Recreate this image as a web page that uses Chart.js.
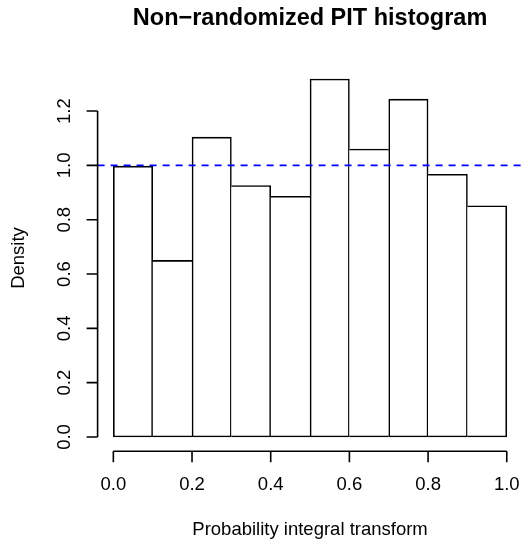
<!DOCTYPE html>
<html>
<head>
<meta charset="utf-8">
<script src="https://cdn.jsdelivr.net/npm/chart.js@4"></script>
<style>
  html, body { margin: 0; padding: 0; background: #fff; }
  canvas { display: block; }
</style>
</head>
<body>
<canvas id="pitChart" width="525" height="544"></canvas>
<script>
// PIT histogram, drawn R-style
const breaks = [0, 0.1, 0.2, 0.3, 0.4, 0.5, 0.6, 0.7, 0.8, 0.9, 1.0];
const density = [0.997, 0.650, 1.104, 0.926, 0.886, 1.318, 1.060, 1.244, 0.967, 0.851];
const xTicks = [0, 0.2, 0.4, 0.6, 0.8, 1.0];
const yTicks = [0, 0.2, 0.4, 0.6, 0.8, 1.0, 1.2];
const refLevel = 1.0;

const titleText = 'Non\u2212randomized PIT histogram';
const xLabel = 'Probability integral transform';
const yLabel = 'Density';

const FONT = '"Liberation Sans", Arial, Helvetica, sans-serif';
const LW = 1.6;
const yMax = Math.max(...density);

const bars = density.map((d, i) => ({ x: (breaks[i] + breaks[i + 1]) / 2, y: d }));

// shared edge between two bars is drawn once, by the taller one
function edgeWidths(i) {
  const last = density.length - 1;
  return {
    top: LW,
    bottom: LW,
    left: (i === 0 || density[i - 1] < density[i]) ? LW : 0,
    right: (i === last || density[i + 1] <= density[i]) ? LW : 0
  };
}

// axes, labels and reference line like base R graphics
const rStyle = {
  id: 'rStyle',
  afterDatasetsDraw(chart) {
    const { ctx, chartArea, scales: { y } } = chart;
    const py = y.getPixelForValue(refLevel);
    ctx.save();
    ctx.strokeStyle = '#0000ff';
    ctx.lineWidth = LW;
    ctx.setLineDash([7, 6]);
    ctx.beginPath();
    ctx.moveTo(chartArea.left, py);
    ctx.lineTo(chartArea.right, py);
    ctx.stroke();
    ctx.restore();
  },
  afterDraw(chart) {
    const { ctx, chartArea, scales: { x, y } } = chart;
    const tick = 11;
    ctx.save();
    ctx.strokeStyle = '#000';
    ctx.fillStyle = '#000';
    ctx.lineWidth = LW;

    // x axis
    const ax = chartArea.bottom;
    ctx.beginPath();
    ctx.moveTo(x.getPixelForValue(xTicks[0]), ax);
    ctx.lineTo(x.getPixelForValue(xTicks[xTicks.length - 1]), ax);
    xTicks.forEach(v => {
      const px = x.getPixelForValue(v);
      ctx.moveTo(px, ax);
      ctx.lineTo(px, ax + tick);
    });
    ctx.stroke();
    ctx.font = '18.5px ' + FONT;
    ctx.textAlign = 'center';
    ctx.textBaseline = 'middle';
    xTicks.forEach(v => ctx.fillText(v.toFixed(1), x.getPixelForValue(v), 485));

    // y axis
    const ay = chartArea.left;
    ctx.beginPath();
    ctx.moveTo(ay, y.getPixelForValue(yTicks[0]));
    ctx.lineTo(ay, y.getPixelForValue(yTicks[yTicks.length - 1]));
    yTicks.forEach(v => {
      const py = y.getPixelForValue(v);
      ctx.moveTo(ay, py);
      ctx.lineTo(ay - tick, py);
    });
    ctx.stroke();
    yTicks.forEach(v => {
      ctx.save();
      ctx.translate(65, y.getPixelForValue(v));
      ctx.rotate(-Math.PI / 2);
      ctx.fillText(v.toFixed(1), 0, 0);
      ctx.restore();
    });

    // axis titles
    const cx = (chartArea.left + chartArea.right) / 2;
    const cy = (chartArea.top + chartArea.bottom) / 2;
    ctx.fillText(xLabel, cx, 530);
    ctx.save();
    ctx.translate(19, cy);
    ctx.rotate(-Math.PI / 2);
    ctx.fillText(yLabel, 0, 0);
    ctx.restore();

    // main title
    ctx.font = 'bold 23.5px ' + FONT;
    ctx.fillText(titleText, cx, 19);
    ctx.restore();
  }
};

new Chart(document.getElementById('pitChart'), {
  type: 'bar',
  data: {
    datasets: [{
      data: bars,
      backgroundColor: '#ffffff',
      borderColor: '#000000',
      borderWidth: ctx => edgeWidths(ctx.dataIndex),
      borderSkipped: false,
      barPercentage: 1,
      categoryPercentage: 1
    }]
  },
  options: {
    responsive: false,
    animation: false,
    devicePixelRatio: 1,
    layout: { padding: { left: 97.6, right: 2.5, top: 64.7, bottom: 92.7 } },
    plugins: { legend: { display: false }, tooltip: { enabled: false }, title: { display: false } },
    scales: {
      x: { type: 'linear', display: false, offset: false, min: -0.04, max: 1.04 },
      y: { display: false, min: -0.04 * yMax, max: 1.04 * yMax }
    }
  },
  plugins: [rStyle]
});
</script>
</body>
</html>
